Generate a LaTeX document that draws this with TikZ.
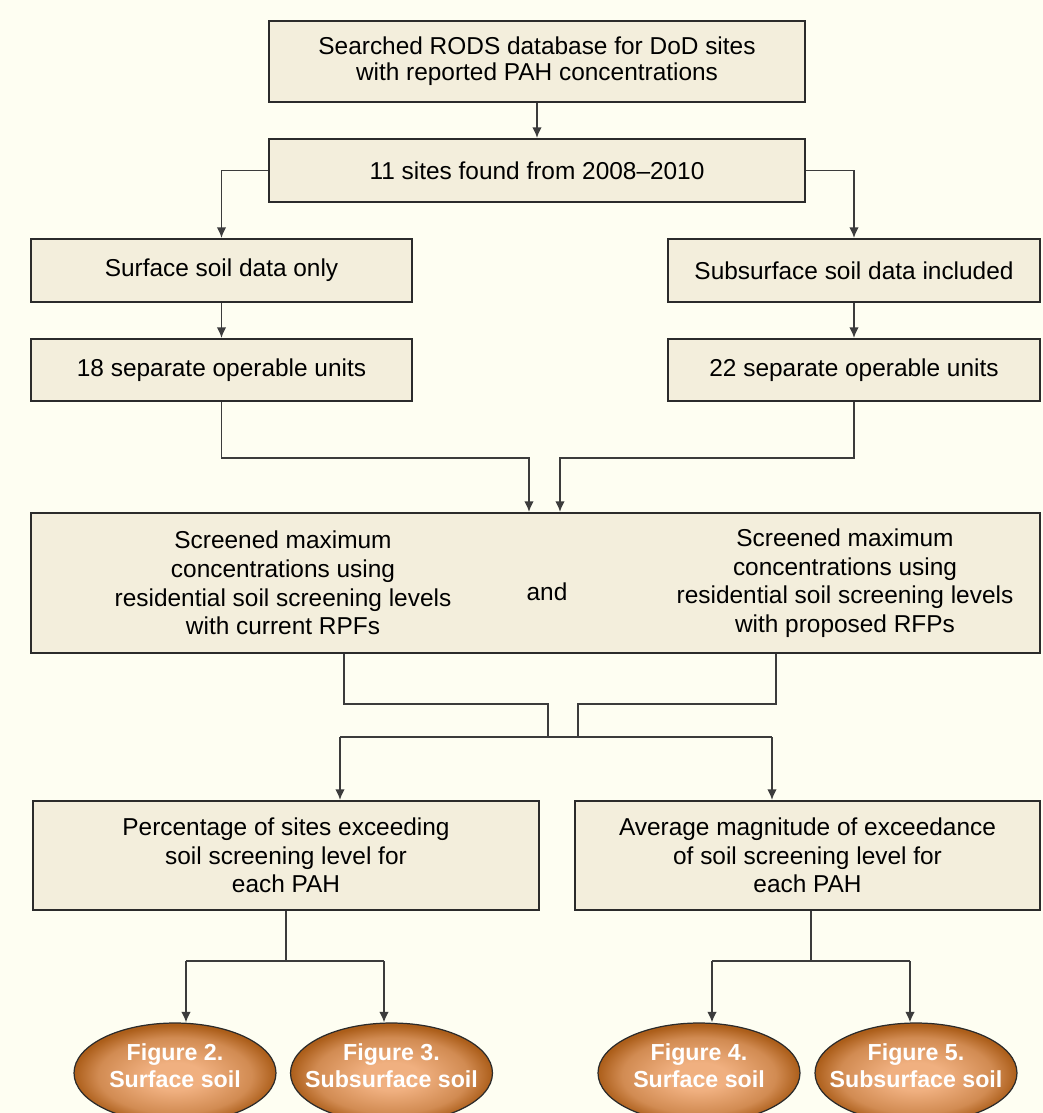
\documentclass[tikz,border=0pt]{standalone}
\usepackage{fontspec}
\setmainfont{Liberation Sans}
\usetikzlibrary{arrows.meta,shapes.geometric}

\definecolor{fondo}{HTML}{FEFEF2}
\definecolor{caja}{HTML}{F3EEDC}
\definecolor{borde}{HTML}{2B2B2B}
\definecolor{linea}{HTML}{3C3C3C}
\definecolor{ocre}{HTML}{F0B080}
\definecolor{marron}{HTML}{AC5E1A}
\pgfdeclareradialshading{tierra}{\pgfpoint{0bp}{-2bp}}{%
  color(0bp)=(ocre); color(7bp)=(ocre); color(19bp)=(marron!45!ocre);
  color(25bp)=(marron); color(50bp)=(marron)}

\begin{document}
\begin{tikzpicture}[x=0.02cm,y=-0.02cm,
  font=\fontsize{13.9}{16.3}\selectfont,
  box/.style={draw=borde,line width=1.3pt,fill=caja,inner sep=0pt,align=center},
  link/.style={draw=linea,line width=0.8pt},
  arrow/.style={link,-{Latex[length=0.21cm,width=0.19cm]}},
  fig/.style={ellipse,draw=borde,line width=0.7pt,shading=tierra,
    minimum width=4.04cm,minimum height=2cm,inner sep=0pt},
  figtext/.style={text=white,align=center,inner sep=0pt,
    font=\fontsize{13.2}{15.4}\selectfont\bfseries}]

  % Fondo y marco (la imagen corta las elipses por abajo)
  \useasboundingbox (0,0) rectangle (1043,1113);
  \clip (0,0) rectangle (1043,1113);
  \fill[fondo] (0,0) rectangle (1043,1113);

  % Cajas superiores
  \node[box,minimum width=10.72cm,minimum height=1.62cm,
    font=\fontsize{13.9}{14.8}\selectfont] (rods) at (537,61.5)
    {Searched RODS database for DoD sites\\with reported PAH concentrations};
  \node[box,minimum width=10.72cm,minimum height=1.26cm] (found) at (537,170.5)
    {11 sites found from 2008--2010};

  % Dos ramas: suelo superficial y subsuperficial
  \node[box,minimum width=7.62cm,minimum height=1.26cm] (surf) at (221.5,270.5)
    {Surface soil data only};
  \node[box,minimum width=7.44cm,minimum height=1.26cm] (subs) at (854,270.5)
    {Subsurface soil data included};
  \node[box,minimum width=7.62cm,minimum height=1.24cm] (u18) at (221.5,370)
    {18 separate operable units};
  \node[box,minimum width=7.44cm,minimum height=1.24cm] (u22) at (854,370)
    {22 separate operable units};

  % Caja ancha del cribado
  \node[box,minimum width=20.18cm,minimum height=2.8cm] (screen) at (535.5,583) {};
  \node[align=center] (current) at (283,583)
    {Screened maximum\\concentrations using\\residential soil screening levels\\with current RPFs};
  \node (conj) at (547,592) {and};
  \node[align=center] (proposed) at (845,583)
    {Screened maximum\\concentrations using\\residential soil screening levels\\with proposed RFPs};

  % Resultados
  \node[box,minimum width=10.12cm,minimum height=2.18cm] (pct) at (286,855.5)
    {Percentage of sites exceeding\\soil screening level for\\each PAH};
  \node[box,minimum width=9.3cm,minimum height=2.18cm] (avg) at (807.5,855.5)
    {Average magnitude of exceedance\\of soil screening level for\\each PAH};

  % Figuras (elipses)
  \node[fig] (f2) at (175,1073) {};
  \node[fig] (f3) at (391.5,1073) {};
  \node[fig] (f4) at (699,1073) {};
  \node[fig] (f5) at (916,1073) {};
  \node[figtext] (f2t) at (175,1066) {Figure 2.\\Surface soil};
  \node[figtext] (f3t) at (391.5,1066) {Figure 3.\\Subsurface soil};
  \node[figtext] (f4t) at (699,1066) {Figure 4.\\Surface soil};
  \node[figtext] (f5t) at (916,1066) {Figure 5.\\Subsurface soil};

  % Puntos de quiebre de las conexiones
  \coordinate (kA) at (529,458);
  \coordinate (kB) at (560,458);
  \coordinate (jA) at (344,704);
  \coordinate (jB) at (776,704);
  \coordinate (jC) at (548,737);
  \coordinate (jD) at (578,737);
  \coordinate (jE) at (340,737);
  \coordinate (jF) at (772,737);
  \coordinate (hL1) at (186,961);
  \coordinate (hR1) at (384,961);
  \coordinate (hM2) at (811,961);
  \coordinate (hL2) at (712,961);
  \coordinate (hR2) at (910,961);

  % Conexiones
  \draw[arrow] (rods.south) -- (found.north);
  \draw[arrow] (found.west) -| (surf.north);
  \draw[arrow] (found.east) -| (subs.north);
  \draw[arrow] (surf.south) -- (u18.north);
  \draw[arrow] (subs.south) -- (u22.north);
  \draw[arrow] (u18.south) |- (kA) -- (kA |- screen.north);
  \draw[arrow] (u22.south) |- (kB) -- (kB |- screen.north);

  \draw[link] (jA |- screen.south) -- (jA) -| (jC);
  \draw[link] (jB |- screen.south) -- (jB) -| (jD);
  \draw[link] (jE) -- (jF);
  \draw[arrow] (jE) -- (jE |- pct.north);
  \draw[arrow] (jF) -- (jF |- avg.north);

  \draw[link] (pct.south) -- (pct.south |- hL1);
  \draw[link] (hL1) -- (hR1);
  \draw[arrow] (hL1) -- (hL1 |- f2.north);
  \draw[arrow] (hR1) -- (hR1 |- f3.north);
  \draw[link] (hM2 |- avg.south) -- (hM2);
  \draw[link] (hL2) -- (hR2);
  \draw[arrow] (hL2) -- (hL2 |- f4.north);
  \draw[arrow] (hR2) -- (hR2 |- f5.north);
\end{tikzpicture}
\end{document}
